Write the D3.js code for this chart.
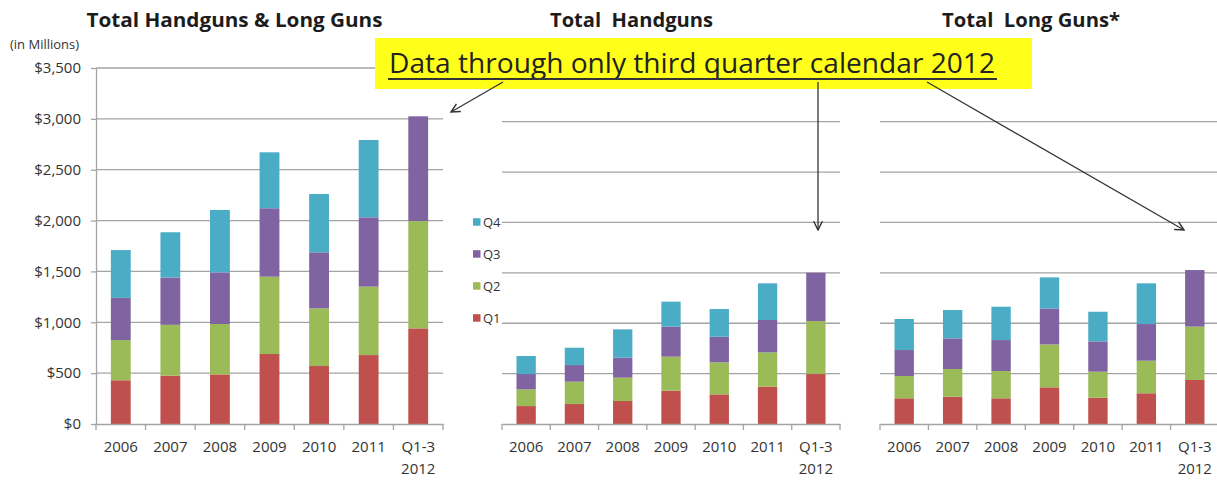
<!DOCTYPE html>
<html>
<head>
<meta charset="utf-8">
<style>
  body { margin: 0; background: #ffffff; }
  svg text { font-family: 'Open Sans', sans-serif; }
</style>
</head>
<body>
<script src="https://d3js.org/d3.v7.min.js"></script>
<div id="chart"></div>
<script>

// categories and ticks
var years = ["2006", "2007", "2008", "2009", "2010", "2011", "Q1-3 2012"];
var quarters = ["Q1", "Q2", "Q3", "Q4"];
var leftTicks = [0, 500, 1000, 1500, 2000, 2500, 3000, 3500];
var leftTickLabels = ["$0", "$500", "$1,000", "$1,500", "$2,000", "$2,500", "$3,000", "$3,500"];

// Total Handguns & Long Guns (in millions)
var totalQ1 = [430, 475, 488, 688, 570, 678, 940];
var totalQ2 = [395, 500, 495, 760, 567, 672, 1055];
var totalQ3 = [415, 465, 508, 673, 551, 682, 1030];
var totalQ4 = [470, 445, 613, 550, 573, 760, 0];

// Total Handguns
var handQ1 = [178, 198, 228, 331, 294, 370, 496];
var handQ2 = [166, 222, 232, 337, 318, 341, 526];
var handQ3 = [152, 165, 198, 298, 254, 321, 479];
var handQ4 = [179, 172, 281, 248, 275, 364, 0];

// Total Long Guns
var longQ1 = [255, 271, 255, 364, 261, 305, 437];
var longQ2 = [221, 275, 271, 426, 258, 323, 529];
var longQ3 = [258, 304, 307, 357, 301, 364, 562];
var longQ4 = [308, 281, 331, 308, 294, 404, 0];

var colors = { Q1: "#c0504d", Q2: "#9bbb59", Q3: "#8064a2", Q4: "#4bacc6" };
var gridColor = "#a3a3a3";
var labelColor = "#333333";

var svg = d3.select("#chart").append("svg")
    .attr("width", 1217)
    .attr("height", 480);

function rows(q1, q2, q3, q4) {
  return years.map(function(y, i) {
    return { year: y, Q1: q1[i], Q2: q2[i], Q3: q3[i], Q4: q4[i] };
  });
}

function drawPanel(o) {
  var g = svg.append("g");
  var baseline = 424;

  var x = d3.scaleBand()
    .domain(years)
    .range([o.x0, o.x1])
    .paddingInner(0.6)
    .paddingOuter(0.3);

  var y = d3.scaleLinear()
    .domain([0, o.max])
    .range([baseline, o.top]);

  var ticks = d3.range(500, o.max + 1, 500);

  // gridlines
  g.selectAll("line.grid")
    .data(ticks)
    .enter().append("line")
      .attr("class", "grid")
      .attr("x1", o.x0)
      .attr("x2", o.x1)
      .attr("y1", function(d) { return y(d); })
      .attr("y2", function(d) { return y(d); })
      .attr("stroke", gridColor)
      .attr("stroke-width", 1.3);

  // y axis only on the first chart
  if (o.yAxis) {
    var ya = g.append("g")
      .attr("transform", "translate(" + o.x0 + ",0)")
      .call(d3.axisLeft(y)
        .tickValues(leftTicks)
        .tickFormat(function(d, i) { return leftTickLabels[i]; })
        .tickSize(5)
        .tickSizeOuter(0)
        .tickPadding(10));
    ya.selectAll("path, line").attr("stroke", gridColor).attr("stroke-width", 1.3);
    ya.selectAll("text")
      .attr("fill", labelColor)
      .style("font-size", "15px")
      .style("font-family", "'Open Sans', sans-serif");
  }

  // stacked bars
  var stack = d3.stack().keys(quarters)(o.data);
  g.selectAll("g.layer")
    .data(stack)
    .enter().append("g")
      .attr("class", "layer")
      .attr("fill", function(d) { return colors[d.key]; })
    .selectAll("rect")
    .data(function(d) { return d; })
    .enter().append("rect")
      .attr("x", function(d) { return x(d.data.year); })
      .attr("width", x.bandwidth())
      .attr("y", function(d) { return y(d[1]); })
      .attr("height", function(d) { return y(d[0]) - y(d[1]); });

  // x axis
  var xa = g.append("g")
    .attr("transform", "translate(0," + baseline + ")")
    .call(d3.axisBottom(x).tickSize(0).tickSizeOuter(0).tickPadding(17));
  xa.select(".domain").attr("stroke", gridColor).attr("stroke-width", 1.3);
  xa.selectAll("text")
    .attr("fill", labelColor)
    .style("font-size", "15px")
    .style("font-family", "'Open Sans', sans-serif")
    .each(function(d) {
      var parts = d.split(" ");
      if (parts.length > 1) {
        var t = d3.select(this).text(null);
        parts.forEach(function(p, i) {
          t.append("tspan").attr("x", 0).attr("dy", i === 0 ? "0.71em" : "1.5em").text(p);
        });
      }
    });

  // category boundary ticks
  xa.selectAll("line.bound")
    .data(d3.range(years.length + 1))
    .enter().append("line")
      .attr("class", "bound")
      .attr("x1", function(i) { return o.x0 + i * x.step(); })
      .attr("x2", function(i) { return o.x0 + i * x.step(); })
      .attr("y1", 0)
      .attr("y2", 6)
      .attr("stroke", gridColor)
      .attr("stroke-width", 1.3);

  // title
  svg.append("text")
    .attr("x", o.titleX)
    .attr("y", 27)
    .attr("text-anchor", "middle")
    .attr("textLength", o.titleW)
    .attr("lengthAdjust", "spacingAndGlyphs")
    .style("font-size", "19px")
    .style("font-weight", "bold")
    .style("white-space", "pre")
    .attr("fill", "#1c1c1c")
    .text(o.title);
}

drawPanel({ x0: 96, x1: 443, top: 68, max: 3500, yAxis: true,
  data: rows(totalQ1, totalQ2, totalQ3, totalQ4),
  title: "Total Handguns & Long Guns", titleX: 234.5, titleW: 296 });
drawPanel({ x0: 502, x1: 840, top: 121.7, max: 3000, yAxis: false,
  data: rows(handQ1, handQ2, handQ3, handQ4),
  title: "Total  Handguns", titleX: 631.5, titleW: 163 });
drawPanel({ x0: 880, x1: 1219, top: 121.7, max: 3000, yAxis: false,
  data: rows(longQ1, longQ2, longQ3, longQ4),
  title: "Total  Long Guns*", titleX: 1031, titleW: 178 });

// units label
svg.append("text")
  .attr("x", 10)
  .attr("y", 49)
  .attr("fill", labelColor)
  .style("font-size", "13px")
  .text("(in Millions)");

// legend (Q4 on top)
var legend = svg.append("g").attr("transform", "translate(473,222)");
var legendItems = quarters.slice().reverse();
legend.selectAll("g")
  .data(legendItems)
  .enter().append("g")
    .attr("transform", function(d, i) { return "translate(0," + (i * 32) + ")"; })
    .each(function(d) {
      var it = d3.select(this);
      it.append("rect").attr("x", 0).attr("y", -3.8).attr("width", 7.5).attr("height", 7.5).attr("fill", colors[d]);
      it.append("text").attr("x", 10).attr("y", 0).attr("dy", "0.35em")
        .attr("fill", labelColor).style("font-size", "13px").text(d);
    });

// annotation box
svg.append("rect")
  .attr("x", 375).attr("y", 38)
  .attr("width", 657).attr("height", 51)
  .attr("fill", "#ffff1a");
svg.append("text")
  .attr("x", 389).attr("y", 73)
  .attr("textLength", 606)
  .attr("lengthAdjust", "spacingAndGlyphs")
  .attr("fill", "#222222")
  .style("font-size", "27px")
  .text("Data through only third quarter calendar 2012");
svg.append("line")
  .attr("x1", 388).attr("x2", 997)
  .attr("y1", 79).attr("y2", 79)
  .attr("stroke", "#333333").attr("stroke-width", 2);

// arrows
svg.append("defs").append("marker")
  .attr("id", "arrow")
  .attr("viewBox", "0 0 10 10")
  .attr("refX", 9).attr("refY", 5)
  .attr("markerWidth", 11).attr("markerHeight", 11)
  .attr("markerUnits", "userSpaceOnUse")
  .attr("orient", "auto")
  .append("path")
    .attr("d", "M1,1 L9,5 L1,9")
    .attr("fill", "none")
    .attr("stroke", "#333333")
    .attr("stroke-width", 1.3);

var arrows = [
  [503, 82, 451, 112],
  [818, 82, 818, 230],
  [927, 82, 1184, 230]
];
svg.selectAll("line.arrow")
  .data(arrows)
  .enter().append("line")
    .attr("class", "arrow")
    .attr("x1", function(d) { return d[0]; })
    .attr("y1", function(d) { return d[1]; })
    .attr("x2", function(d) { return d[2]; })
    .attr("y2", function(d) { return d[3]; })
    .attr("stroke", "#333333")
    .attr("stroke-width", 1.3)
    .attr("marker-end", "url(#arrow)");

</script>
</body>
</html>
